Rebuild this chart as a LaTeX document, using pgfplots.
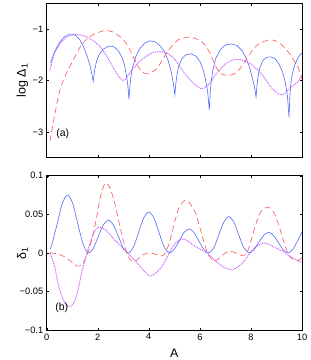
\documentclass[border=0pt]{standalone}
\usepackage{fontspec}
\setmainfont{Liberation Sans}
\usepackage{pgfplots}
\pgfplotsset{compat=1.18}
\definecolor{cblue}{RGB}{80,105,250}
\definecolor{cred}{RGB}{255,80,80}
\definecolor{cmag}{RGB}{200,90,255}
\pgfplotsset{
  myax/.style={
    width=255.3bp, height=154.4bp, scale only axis,
    xmin=0, xmax=10, xtick={0,2,4,6,8,10},
    tick align=inside, tick pos=both, major tick length=2.5bp,
    axis line style={line width=0.5bp},
    every tick/.style={black, line width=0.4bp},
    tick label style={font=\fontsize{9.3}{11}\selectfont},
    label style={font=\fontsize{12.5}{14}\selectfont},
    /pgf/number format/assume math mode=true,
    scaled y ticks=false,
    clip=true,
  },
  bl/.style={cblue, line width=0.6bp},
  rd/.style={cred, line width=0.6bp, dash pattern=on 6bp off 3.5bp},
  mg/.style={cmag, line width=1bp, dash pattern=on 0.9bp off 0.9bp},
}
\begin{document}
\begin{tikzpicture}
\useasboundingbox (0,0) rectangle (311bp,-360bp);
\begin{axis}[myax, at={(46.7bp,-3.3bp)}, anchor=north west,
  ymin=-3.5, ymax=-0.5, ytick={-3,-2,-1}, yticklabels={−3,−2,−1},
  xticklabels={},
  ylabel={log Δ\textsubscript{1}},
  ylabel style={at={(axis description cs:-0.095,0.5)}, anchor=center}]
\addplot[bl] coordinates {
(0.15,-1.66)(0.3,-1.45)(0.5,-1.26)(0.7,-1.15)(0.9,-1.10)(1.0,-1.10)(1.15,-1.13)(1.3,-1.21)(1.45,-1.35)(1.6,-1.55)(1.7,-1.72)(1.77,-1.88)(1.82,-2.02)
(1.88,-1.80)(1.95,-1.63)(2.05,-1.50)(2.2,-1.40)(2.35,-1.35)(2.5,-1.33)(2.65,-1.35)(2.8,-1.42)(2.95,-1.55)(3.05,-1.70)(3.13,-1.92)(3.18,-2.1)(3.22,-2.36)
(3.26,-2.1)(3.3,-1.92)(3.36,-1.75)(3.5,-1.52)(3.65,-1.38)(3.85,-1.27)(4.05,-1.23)(4.25,-1.25)(4.45,-1.33)(4.6,-1.43)(4.75,-1.60)(4.87,-1.82)(4.95,-2.02)(5.02,-2.28)
(5.06,-2.05)(5.1,-1.90)(5.17,-1.72)(5.3,-1.57)(5.45,-1.50)(5.65,-1.48)(5.85,-1.53)(6.0,-1.63)(6.12,-1.78)(6.22,-1.98)(6.3,-2.2)(6.37,-2.57)
(6.41,-2.2)(6.45,-2.0)(6.5,-1.82)(6.62,-1.57)(6.8,-1.40)(7.0,-1.31)(7.22,-1.29)(7.45,-1.32)(7.65,-1.42)(7.8,-1.55)(7.95,-1.75)(8.07,-1.98)(8.14,-2.12)(8.2,-2.32)
(8.24,-2.08)(8.28,-1.92)(8.35,-1.75)(8.48,-1.60)(8.62,-1.55)(8.78,-1.54)(8.95,-1.58)(9.1,-1.68)(9.25,-1.85)(9.35,-2.05)(9.43,-2.3)(9.49,-2.71)
(9.53,-2.25)(9.57,-2.02)(9.62,-1.88)(9.7,-1.72)(9.82,-1.58)(9.92,-1.50)(10,-1.47)};
\addplot[rd, smooth] coordinates {
(0.13,-3.18)(0.33,-2.63)(0.52,-2.18)(0.75,-1.88)(0.98,-1.66)(1.2,-1.45)(1.37,-1.30)(1.6,-1.18)(1.89,-1.09)(2.28,-1.03)(2.55,-1.05)(2.74,-1.10)(2.95,-1.18)(3.13,-1.29)(3.3,-1.45)(3.5,-1.65)(3.65,-1.78)(3.8,-1.85)(3.95,-1.87)(4.1,-1.84)(4.31,-1.77)(4.5,-1.63)(4.7,-1.46)(4.96,-1.30)(5.15,-1.21)(5.5,-1.16)(5.8,-1.18)(6.07,-1.24)(6.25,-1.35)(6.4,-1.47)(6.59,-1.70)(6.8,-1.86)(7.05,-1.90)(7.3,-1.88)(7.57,-1.77)(7.83,-1.58)(8.05,-1.42)(8.25,-1.31)(8.5,-1.24)(8.8,-1.21)(9.05,-1.25)(9.27,-1.34)(9.45,-1.44)(9.6,-1.54)(9.86,-1.76)(10,-1.97)};
\addplot[mg, smooth] coordinates {
(0.13,-1.80)(0.2,-1.65)(0.3,-1.48)(0.46,-1.33)(0.6,-1.24)(0.8,-1.15)(1.1,-1.11)(1.35,-1.12)(1.6,-1.16)(1.89,-1.25)(2.1,-1.35)(2.28,-1.47)(2.45,-1.61)(2.61,-1.75)(2.8,-1.91)(3.0,-2.0)(3.15,-1.93)(3.33,-1.80)(3.6,-1.65)(3.85,-1.55)(4.1,-1.47)(4.35,-1.44)(4.6,-1.45)(4.83,-1.50)(5.05,-1.61)(5.22,-1.73)(5.4,-1.86)(5.61,-1.98)(5.8,-2.08)(6.05,-2.16)(6.25,-2.12)(6.4,-2.04)(6.6,-1.90)(6.79,-1.79)(7.0,-1.68)(7.24,-1.61)(7.45,-1.59)(7.64,-1.60)(7.85,-1.64)(8.03,-1.69)(8.25,-1.79)(8.49,-1.92)(8.7,-2.07)(8.88,-2.18)(9.05,-2.25)(9.2,-2.28)(9.35,-2.24)(9.53,-2.15)(9.7,-2.08)(9.86,-2.01)(10,-1.89)};
\node[font=\fontsize{10.5}{12}\selectfont] at (axis cs:0.63,-3.03) {(a)};
\end{axis}
\begin{axis}[myax, at={(46.7bp,-175.7bp)}, anchor=north west,
  ymin=-0.1, ymax=0.1, ytick={-0.1,-0.05,0,0.05,0.1},
  yticklabels={−0.1,−0.05,0,0.05,0.1},
  xlabel={A},
  xlabel style={at={(axis description cs:0.5,-0.149)}, anchor=center},
  ylabel={δ\textsubscript{1}},
  ylabel style={at={(axis description cs:-0.095,0.5)}, anchor=center}]
\addplot[bl, smooth] coordinates {
(0.13,0.005)(0.2,0.0106)(0.41,0.0375)(0.61,0.064)(0.82,0.075)(1.02,0.064)(1.22,0.0375)(1.43,0.011)(1.63,0)
(1.83,0.0062)(2.02,0.0213)(2.22,0.0364)(2.42,0.0426)(2.61,0.0364)(2.81,0.0213)(3.0,0.0062)(3.2,0)
(3.4,0.0077)(3.6,0.0265)(3.8,0.0453)(4.0,0.053)(4.2,0.0453)(4.4,0.0265)(4.6,0.0077)(4.8,0)
(4.99,0.0045)(5.19,0.0155)(5.38,0.0265)(5.58,0.031)(5.77,0.0265)(5.96,0.0155)(6.16,0.0045)(6.35,0)
(6.55,0.0069)(6.74,0.0235)(6.94,0.040)(7.13,0.047)(7.33,0.040)(7.52,0.0235)(7.72,0.0069)(7.92,0)
(8.11,0.0039)(8.3,0.0133)(8.5,0.0227)(8.69,0.0266)(8.88,0.0227)(9.08,0.0133)(9.27,0.0039)(9.46,0)
(9.65,0.0051)(9.85,0.017)(10,0.027)};
\addplot[rd, smooth] coordinates {
(0.13,0)(0.4,-0.001)(0.7,-0.005)(0.95,-0.011)(1.2,-0.017)(1.35,-0.016)(1.5,-0.009)(1.65,0.003)(1.8,0.022)(1.95,0.045)(2.1,0.072)(2.28,0.090)(2.45,0.086)(2.6,0.072)(2.75,0.052)(2.9,0.030)(3.05,0.010)(3.2,-0.005)(3.35,-0.011)(3.5,-0.010)(3.7,-0.004)(3.95,0)(4.2,-0.001)(4.45,-0.004)(4.6,-0.002)(4.75,0.008)(4.9,0.025)(5.05,0.045)(5.2,0.060)(5.4,0.068)(5.55,0.066)(5.7,0.060)(5.85,0.050)(6.0,0.033)(6.15,0.015)(6.3,0.000)(6.45,-0.008)(6.6,-0.010)(6.8,-0.006)(7.0,0.000)(7.2,0.002)(7.4,0.000)(7.6,-0.003)(7.8,-0.002)(7.95,0.010)(8.1,0.027)(8.25,0.043)(8.4,0.054)(8.6,0.059)(8.75,0.058)(8.9,0.052)(9.05,0.040)(9.2,0.024)(9.35,0.008)(9.5,-0.004)(9.7,-0.009)(9.85,-0.010)(10,-0.006)};
\addplot[mg, smooth] coordinates {
(0.13,0)(0.2,-0.006)(0.33,-0.02)(0.46,-0.042)(0.65,-0.061)(0.8,-0.068)(0.95,-0.069)(1.1,-0.062)(1.24,-0.046)(1.37,-0.025)(1.5,-0.009)(1.62,0.005)(1.76,0.019)(1.9,0.029)(2.02,0.033)(2.2,0.032)(2.34,0.029)(2.5,0.023)(2.68,0.016)(2.9,0.009)(3.07,0.003)(3.25,-0.003)(3.46,-0.010)(3.65,-0.017)(3.8,-0.023)(3.95,-0.028)(4.05,-0.030)(4.2,-0.028)(4.37,-0.023)(4.5,-0.018)(4.63,-0.011)(4.76,-0.003)(4.89,0.005)(5.05,0.013)(5.22,0.017)(5.35,0.018)(5.5,0.016)(5.74,0.010)(6.0,0.005)(6.27,0.0)(6.5,-0.007)(6.66,-0.012)(6.9,-0.018)(7.11,-0.021)(7.25,-0.022)(7.45,-0.019)(7.7,-0.012)(7.88,-0.004)(8.03,0.003)(8.2,0.008)(8.42,0.012)(8.55,0.013)(8.75,0.010)(9.0,0.006)(9.25,0.002)(9.46,-0.003)(9.7,-0.008)(9.98,-0.012)};
\node[font=\fontsize{10.5}{12}\selectfont] at (axis cs:0.59,-0.0712) {(b)};
\end{axis}
\end{tikzpicture}
\end{document}
